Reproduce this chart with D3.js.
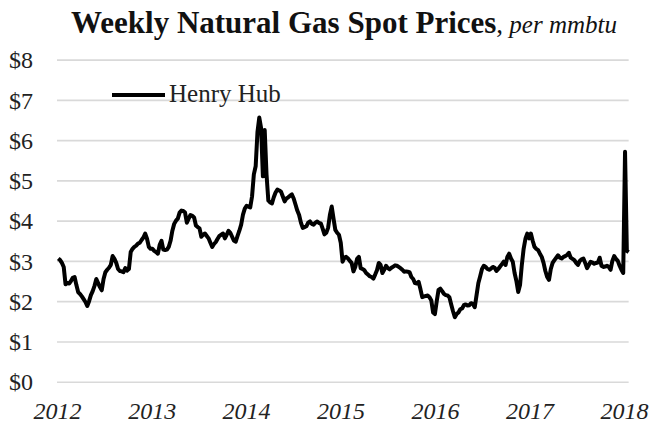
<!DOCTYPE html>
<html>
<head>
<meta charset="utf-8">
<script src="https://cdn.jsdelivr.net/npm/d3@7"></script>
<style>
  html, body { margin: 0; padding: 0; background: #fff; }
  svg { display: block; }
  svg text { font-family: "Liberation Serif", "Times New Roman", serif; }
</style>
</head>
<body>
<div id="chart"></div>
<script>
// Weekly Henry Hub spot price ($/mmbtu), weeks ending on Fridays
const prices2012 = [3.06, 3.02, 2.95, 2.85, 2.42, 2.45, 2.44, 2.50, 2.58, 2.60, 2.40, 2.22, 2.18,
  2.12, 2.05, 1.98, 1.88, 2.00, 2.15, 2.25, 2.38, 2.55, 2.45, 2.35, 2.27, 2.55, 2.72, 2.78, 2.83,
  2.90, 3.12, 3.05, 2.95, 2.80, 2.75, 2.74, 2.72, 2.82, 2.76, 2.80, 3.22, 3.30, 3.35, 3.38, 3.43,
  3.45, 3.52, 3.58, 3.68, 3.55, 3.35, 3.30];
const prices2013 = [3.30, 3.25, 3.22, 3.18, 3.40, 3.50, 3.28, 3.27, 3.28, 3.35, 3.50, 3.75, 3.92,
  4.00, 4.05, 4.20, 4.25, 4.24, 4.20, 3.95, 4.05, 4.14, 4.12, 4.08, 3.88, 3.84, 3.81, 3.60, 3.65,
  3.68, 3.62, 3.56, 3.45, 3.35, 3.42, 3.47, 3.55, 3.62, 3.65, 3.68, 3.56, 3.65, 3.75, 3.70, 3.60,
  3.50, 3.48, 3.62, 3.75, 3.90, 4.15, 4.30];
const prices2014 = [4.37, 4.35, 4.33, 4.60, 5.15, 5.35, 6.20, 6.56, 6.30, 5.10, 6.25, 5.15, 4.50,
  4.45, 4.43, 4.58, 4.70, 4.77, 4.75, 4.72, 4.60, 4.48, 4.55, 4.58, 4.62, 4.65, 4.55, 4.40, 4.25,
  4.14, 3.95, 3.82, 3.84, 3.86, 3.95, 3.98, 3.92, 3.90, 3.95, 3.98, 3.94, 3.93, 3.80, 3.66, 3.70,
  3.82, 4.14, 4.35, 4.05, 3.77, 3.70, 3.65];
const prices2015 = [3.45, 2.98, 3.08, 3.10, 3.06, 3.00, 2.95, 2.74, 2.85, 3.05, 3.10, 2.82, 2.80,
  2.77, 2.70, 2.66, 2.62, 2.60, 2.56, 2.66, 2.77, 2.95, 2.90, 2.70, 2.78, 2.88, 2.82, 2.79, 2.83,
  2.86, 2.89, 2.88, 2.85, 2.82, 2.78, 2.73, 2.74, 2.73, 2.72, 2.60, 2.55, 2.45, 2.44, 2.48, 2.30,
  2.10, 2.12, 2.13, 2.14, 2.10, 2.02, 1.72];
const prices2016 = [1.68, 2.00, 2.28, 2.31, 2.25, 2.18, 2.15, 2.14, 2.10, 1.92, 1.75, 1.60, 1.68,
  1.72, 1.80, 1.82, 1.90, 1.92, 1.89, 1.90, 1.95, 1.93, 1.85, 2.15, 2.45, 2.62, 2.80, 2.88, 2.85,
  2.80, 2.78, 2.81, 2.85, 2.83, 2.75, 2.80, 2.86, 2.92, 2.98, 2.90, 3.10, 3.18, 3.06, 2.98, 2.70,
  2.50, 2.23, 2.40, 2.90, 3.30, 3.55, 3.68, 3.56];
const prices2017 = [3.68, 3.50, 3.35, 3.30, 3.27, 3.18, 3.10, 2.95, 2.75, 2.60, 2.53, 2.80, 2.95,
  3.02, 3.08, 3.14, 3.08, 3.06, 3.10, 3.12, 3.15, 3.20, 3.08, 3.05, 3.02, 2.95, 2.90, 3.00, 3.04,
  3.06, 2.95, 2.82, 2.90, 2.98, 2.96, 2.93, 2.95, 2.96, 3.08, 2.88, 2.85, 2.86, 2.88, 2.85, 2.78,
  3.00, 3.12, 3.05, 3.00, 2.88, 2.78, 2.70];
const prices2018 = [5.71, 3.25, 3.22];

const firstWeek = new Date(2012, 0, 6);
const yearLabels = [2012, 2013, 2014, 2015, 2016, 2017, 2018];
const priceTicks = [0, 1, 2, 3, 4, 5, 6, 7, 8];
const seriesName = "Henry Hub";

const prices = [].concat(prices2012, prices2013, prices2014, prices2015, prices2016, prices2017, prices2018);
const data = prices.map((p, i) => ({
  date: new Date(firstWeek.getFullYear(), firstWeek.getMonth(), firstWeek.getDate() + 7 * i),
  price: p
}));

const W = 652, H = 426;
const serif = "Liberation Serif";
const svg = d3.select("#chart").append("svg").attr("width", W).attr("height", H);

const x = d3.scaleTime()
  .domain([new Date(2012, 0, 1), new Date(2018, 0, 1)])
  .range([57, 624]);
const y = d3.scaleLinear().domain([0, 8]).range([381.7, 59.6]);
const gridRight = x(data[data.length - 1].date);

// gridlines + y labels
const yAxis = svg.append("g")
  .attr("transform", "translate(57,0)")
  .call(d3.axisLeft(y).tickValues(priceTicks).tickFormat(d => "$" + d)
    .tickSize(-(gridRight - 57)).tickPadding(24))
  .attr("font-family", serif)
  .attr("font-size", 24);
yAxis.select(".domain").remove();
yAxis.selectAll("line").attr("stroke", "#d9d9d9").attr("stroke-width", 1.6);
yAxis.selectAll("text")
  .attr("fill", "#222")
  .attr("dy", "0.34em");

// x labels
const xAxis = svg.append("g")
  .attr("transform", "translate(0,381.7)")
  .call(d3.axisBottom(x).tickValues(yearLabels.map(yr => new Date(yr, 0, 1)))
    .tickFormat(d3.timeFormat("%Y")).tickSize(0).tickPadding(0))
  .attr("font-family", serif)
  .attr("font-size", 24);
xAxis.select(".domain").remove();
xAxis.selectAll("text")
  .attr("fill", "#222")
  .attr("y", 37)
  .attr("dy", 0)
  .attr("font-style", "italic");

// price line
const line = d3.line().x(d => x(d.date)).y(d => y(d.price));
svg.append("path")
  .datum(data)
  .attr("d", line)
  .attr("fill", "none")
  .attr("stroke", "#000")
  .attr("stroke-width", 4)
  .attr("stroke-linejoin", "round")
  .attr("stroke-linecap", "butt");

// legend
svg.append("line")
  .attr("x1", 112).attr("x2", 165).attr("y1", 95).attr("y2", 95)
  .attr("stroke", "#000").attr("stroke-width", 4);
svg.append("text")
  .attr("x", 169).attr("y", 102)
  .attr("fill", "#222")
  .attr("font-family", serif)
  .attr("font-size", 25)
  .text(seriesName);

// title
const title = svg.append("text")
  .attr("x", 344).attr("y", 33)
  .attr("text-anchor", "middle")
  .attr("font-family", serif)
  .attr("fill", "#111");
title.append("tspan").attr("font-weight", "bold").attr("font-size", 31)
  .text("Weekly Natural Gas Spot Prices");
title.append("tspan").attr("font-size", 27).text(",");
title.append("tspan").attr("font-style", "italic").attr("font-size", 25).text(" per mmbtu");
</script>
</body>
</html>
